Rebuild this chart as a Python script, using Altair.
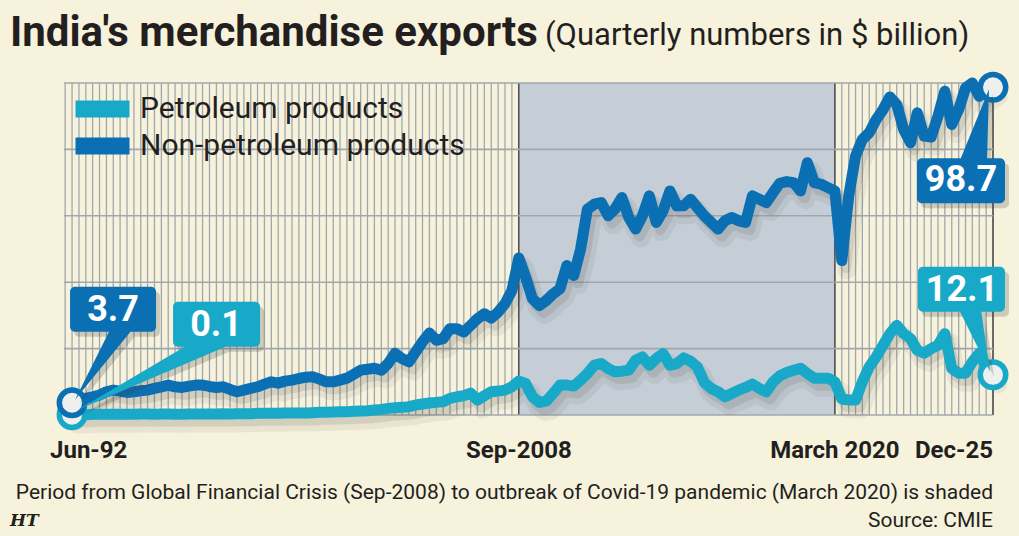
import altair as alt
import pandas as pd

# ---------------------------------------------------------------------------
# India's merchandise exports, quarterly, $ billion (Jun-1992 .. Dec-2025)
# ---------------------------------------------------------------------------
series_names = ["Petroleum products", "Non-petroleum products"]
series_colors = ["#19a9c8", "#0b6fb4"]

petroleum = [
    0.1, 0.1, 0.1, 0.2, 0.2, 0.2, 0.2, 0.2, 0.2, 0.2,
    0.3, 0.3, 0.2, 0.3, 0.3, 0.2, 0.2, 0.3, 0.3, 0.3,
    0.3, 0.3, 0.4, 0.3, 0.4, 0.4, 0.4, 0.5, 0.5, 0.5,
    0.5, 0.6, 0.6, 0.6, 0.6, 0.7, 0.8, 0.8, 0.9, 1.0,
    1.0, 1.1, 1.2, 1.3, 1.5, 1.7, 2.0, 2.2, 2.3, 2.5,
    3.0, 3.3, 3.6, 3.8, 4.0, 5.0, 5.5, 5.8, 6.6, 4.5,
    5.8, 7.0, 7.2, 7.5, 8.5, 10.2, 9.5, 5.5, 3.8, 4.2,
    6.5, 9.0, 9.0, 8.7, 10.5, 12.5, 15.0, 15.5, 14.0, 13.0,
    13.2, 13.5, 16.5, 17.5, 15.0, 17.0, 18.5, 15.0, 15.5, 17.2,
    16.2, 14.5, 9.8, 8.0, 7.0, 5.5, 6.5, 7.5, 8.3, 9.3,
    8.0, 7.0, 10.0, 11.8, 12.8, 13.5, 14.1, 12.5, 11.1, 11.1,
    11.1, 10.0, 4.8, 4.5, 4.5, 10.0, 14.5, 17.5, 21.0, 24.5,
    27.0, 24.5, 23.0, 19.5, 18.6, 20.0, 21.0, 24.5, 14.0, 12.6,
    12.6, 16.0, 18.6, 14.5, 12.1,
]

non_petroleum = [
    3.7, 4.5, 5.0, 5.5, 6.0, 7.0, 7.5, 7.2, 6.8, 7.0,
    7.3, 7.5, 8.0, 8.5, 9.0, 8.5, 8.3, 8.7, 9.0, 9.0,
    8.6, 8.3, 8.5, 7.7, 7.0, 7.5, 8.0, 8.5, 9.3, 10.0,
    9.6, 10.2, 10.5, 11.0, 11.4, 11.5, 10.8, 10.0, 10.0, 10.5,
    11.1, 12.3, 13.5, 13.8, 14.1, 13.5, 15.5, 18.6, 17.0, 16.0,
    19.0, 22.0, 24.7, 22.5, 23.0, 26.0, 26.0, 25.0, 27.0, 29.0,
    30.5, 29.2, 31.0, 33.5, 37.5, 47.3, 41.5, 35.0, 33.0, 34.5,
    36.5, 38.0, 45.0, 42.0, 50.0, 62.0, 63.5, 64.0, 60.0, 62.0,
    65.5, 59.5, 56.0, 60.0, 66.0, 58.0, 61.5, 67.5, 63.0, 63.0,
    65.0, 62.5, 60.0, 58.0, 56.0, 58.5, 59.5, 58.5, 58.0, 66.0,
    65.0, 64.0, 67.0, 69.8, 70.3, 70.0, 67.5, 76.0, 70.0, 69.5,
    68.5, 67.5, 46.5, 66.0, 78.0, 83.0, 85.0, 89.0, 92.0, 95.8,
    93.5, 86.0, 82.0, 91.0, 84.0, 83.7, 90.0, 97.5, 87.5, 92.0,
    98.5, 100.0, 96.0, 97.5, 98.7,
]

first_quarter = (1992, 6)  # Jun-1992


def quarter_date(i):
    m = first_quarter[1] - 1 + 3 * i
    return f"{first_quarter[0] + m // 12}-{m % 12 + 1:02d}-01"


quarters = [quarter_date(i) for i in range(len(petroleum))]

tick_dates = ["1992-06-01", "2008-09-01", "2020-03-01", "2025-12-01"]
tick_labels = ["Jun-92", "Sep-2008", "March 2020", "Dec-25"]
y_ticks = [0, 20, 40, 60, 80, 100]
shade_period = ["2008-09-01", "2020-03-01"]

title_text = "India's merchandise exports"
subtitle_text = "(Quarterly numbers in $ billion)"
note_text = ("Period from Global Financial Crisis (Sep-2008) to outbreak of "
             "Covid-19 pandemic (March 2020) is shaded")
source_text = "Source: CMIE"

# ---------------------------------------------------------------------------
# Styling
# ---------------------------------------------------------------------------
FONT = "Roboto"
INK = "#231f20"
BG = "#f6f2dc"
GRID = "#a1a8ad"
SHADE = "#c5ced6"
W, H = 929, 332


def dt(s):
    y, m, d = (int(p) for p in s.split("-"))
    return alt.DateTime(year=y, month=m, date=d, utc=True)


x_scale = alt.Scale(domain=[dt("1992-02-15"), dt(quarters[-1])])
y_scale = alt.Scale(domain=[0, 100], nice=False)
color_scale = alt.Scale(domain=series_names, range=series_colors)

n = len(quarters)
lines = pd.DataFrame({
    "date": quarters * 2,
    "series": [series_names[0]] * n + [series_names[1]] * n,
    "value": petroleum + non_petroleum,
})

X = alt.X("date:T", scale=x_scale, axis=None)

# quarterly vertical grid
grid_dates = [quarter_date(i) for i in range(-1, n)]
vgrid = alt.Chart(pd.DataFrame({"date": grid_dates})).mark_rule(
    color=GRID, strokeWidth=1.3
).encode(x=X)

# shaded crisis-to-pandemic period
shade = alt.Chart(pd.DataFrame({"start": [shade_period[0]], "end": [shade_period[1]]})).mark_rect(
    color=SHADE
).encode(
    x=alt.X("start:T", scale=x_scale, axis=None),
    x2="end:T",
    y=alt.Y(datum=0, scale=y_scale, axis=None),
    y2=alt.Y2(datum=100),
)

# dark marker rules at the period edges and at the last quarter
edges = alt.Chart(pd.DataFrame({"date": shade_period + [quarters[-1]]})).mark_rule(
    color="#3b3b3b", strokeWidth=1.3
).encode(x=X)

# horizontal grid + y axis
hgrid = alt.Chart(pd.DataFrame({"v": y_ticks})).mark_rule(
    color=GRID, strokeWidth=1.6
).encode(
    y=alt.Y("v:Q", scale=y_scale, axis=alt.Axis(
        values=y_ticks, grid=False, ticks=False, domain=True, domainColor="#555555",
        domainWidth=1.2, labelFont=FONT, labelFontSize=24, labelFontWeight="bold",
        labelColor=INK, labelPadding=15, title=None,
    ))
)

Y = alt.Y("value:Q", scale=y_scale, axis=None)

# soft drop shadow under the lines
shadow_wide = alt.Chart(lines).mark_line(
    strokeWidth=19, color="#3a3a3a", opacity=0.07, xOffset=5, yOffset=9,
    strokeJoin="round", strokeCap="round",
).encode(x=X, y=Y, detail="series:N")
shadow_core = alt.Chart(lines).mark_line(
    strokeWidth=11, color="#3a3a3a", opacity=0.12, xOffset=4, yOffset=7,
    strokeJoin="round", strokeCap="round",
).encode(x=X, y=Y, detail="series:N")

line = alt.Chart(lines).mark_line(
    strokeWidth=11, strokeJoin="round", strokeCap="round"
).encode(
    x=alt.X("date:T", scale=x_scale, axis=alt.Axis(
        values=[dt(d) for d in tick_dates], labels=False, grid=False,
        ticks=True, tickSize=10, tickColor="#2b2b2b", tickWidth=1.4,
        domain=True, domainColor="#2b2b2b", domainWidth=1.4, title=None,
    )),
    y=Y,
    color=alt.Color("series:N", scale=color_scale, legend=alt.Legend(
        orient="none", legendX=3, legendY=11, title=None, padding=0,
        symbolType="stroke", symbolSize=2916, symbolStrokeWidth=17,
        labelFont=FONT, labelFontSize=30, labelColor=INK, labelOffset=2,
        labelLimit=0, rowPadding=7, clipHeight=30,
    )),
)

# end-point rings
ends = pd.DataFrame({
    "date": [quarters[0], quarters[-1], quarters[0], quarters[-1]],
    "series": [series_names[0]] * 2 + [series_names[1]] * 2,
    "value": [petroleum[0], petroleum[-1], non_petroleum[0], non_petroleum[-1]],
})
rings = alt.Chart(ends).mark_point(
    shape="circle", filled=False, fill="#eef0ee", size=650, strokeWidth=5.5, opacity=1
).encode(x=X, y=Y, color=alt.Color("series:N", scale=color_scale, legend=None))


# ---------------------------------------------------------------------------
# Value call-outs: rounded box + pointer, drawn in pixel units around the
# labelled point (symbol size 4 keeps the path at 1:1 scale)
# ---------------------------------------------------------------------------
def rounded_box(x0, y0, x1, y1, r=5):
    return (f"M{x0 + r},{y0} L{x1 - r},{y0} A{r},{r} 0 0 1 {x1},{y0 + r} "
            f"L{x1},{y1 - r} A{r},{r} 0 0 1 {x1 - r},{y1} L{x0 + r},{y1} "
            f"A{r},{r} 0 0 1 {x0},{y1 - r} L{x0},{y0 + r} A{r},{r} 0 0 1 {x0 + r},{y0} Z")


def wedge(p1, p2, tip):
    pts = [p1, p2, tip]
    area = sum(a[0] * b[1] - b[0] * a[1] for a, b in zip(pts, pts[1:] + pts[:1]))
    if area < 0:
        pts = [p1, tip, p2]
    return "M" + " L".join(f"{x},{y}" for x, y in pts) + " Z"


callouts = [
    # series index, point index, box (x0, y0, x1, y1), pointer base, tip, text centre
    (1, 0, (-2, -116, 84, -71), ((38, -73), (60, -73)), (3, -3), (41, -93)),
    (0, 0, (101, -113, 188, -68), ((116, -70), (158, -70)), (6, -5), (144, -90)),
    (1, -1, (-76, 71, 12, 116), ((-33, 73), (-6, 73)), (-4, 2), (-32, 93)),
    (0, -1, (-75, -108, 12, -63), ((-34, -65), (-12, -65)), (-3, -3), (-31, -85)),
]
series_values = [petroleum, non_petroleum]

callout_layers = []
for s, idx, box, base, tip, txt in callouts:
    v = series_values[s][idx]
    pt = pd.DataFrame({"date": [quarters[idx]], "value": [v], "label": [f"{v:.1f}"]})
    path = rounded_box(*box) + " " + wedge(base[0], base[1], tip)
    callout_layers.append(alt.Chart(pt).mark_point(
        shape=path, size=4, filled=True, color="#3a3a3a", opacity=0.22,
        strokeWidth=0, xOffset=4, yOffset=5,
    ).encode(x=X, y=Y))
    callout_layers.append(alt.Chart(pt).mark_point(
        shape=path, size=4, filled=True, color=series_colors[s], opacity=1, strokeWidth=0,
    ).encode(x=X, y=Y))
    callout_layers.append(alt.Chart(pt).mark_text(
        font=FONT, fontSize=36, fontWeight="bold", color="white",
        align="center", baseline="middle", dx=txt[0], dy=txt[1],
    ).encode(x=X, y=Y, text="label:N"))

# x tick labels
ticks = pd.DataFrame({"date": tick_dates, "label": tick_labels})
tick_text = dict(font=FONT, fontSize=24, fontWeight="bold", color=INK,
                 baseline="middle", dy=36)
xlabels = [
    alt.Chart(ticks.iloc[[0]]).mark_text(align="left", dx=-22, **tick_text),
    alt.Chart(ticks.iloc[[1, 2]]).mark_text(align="center", **tick_text),
    alt.Chart(ticks.iloc[[3]]).mark_text(align="right", **tick_text),
]
xlabels = [c.encode(x=X, y=alt.Y(datum=0, scale=y_scale, axis=None), text="label:N")
           for c in xlabels]


# titles and footer
def free_text(text, x, y, **kw):
    return alt.Chart(pd.DataFrame({"t": [text]})).mark_text(
        baseline="alphabetic", **kw
    ).encode(x=alt.value(x), y=alt.value(y), text="t:N")


texts = [
    free_text(title_text, -54, -37, font=FONT, fontSize=42, fontWeight="bold",
              color=INK, align="left"),
    free_text(subtitle_text, 481, -38, font=FONT, fontSize=31, color=INK, align="left"),
    free_text(note_text, W, 416, font=FONT, fontSize=21, color=INK, align="right"),
    free_text(source_text, W, 444, font=FONT, fontSize=21, color=INK, align="right"),
    free_text("HT", -54, 443, font="DejaVu Serif", fontSize=17, fontWeight="bold",
              fontStyle="italic", color=INK, align="left"),
]

chart = alt.layer(
    vgrid, shade, edges, hgrid, shadow_wide, shadow_core, line, rings,
    *callout_layers, *xlabels, *texts,
).properties(
    width=W, height=H, background=BG,
    padding={"left": 64, "top": 83, "right": 26, "bottom": 121},
    autosize=alt.AutoSizeParams(type="none"),
).configure_view(stroke=None)

chart.save("out.html", embed_options={"renderer": "svg", "actions": False})
